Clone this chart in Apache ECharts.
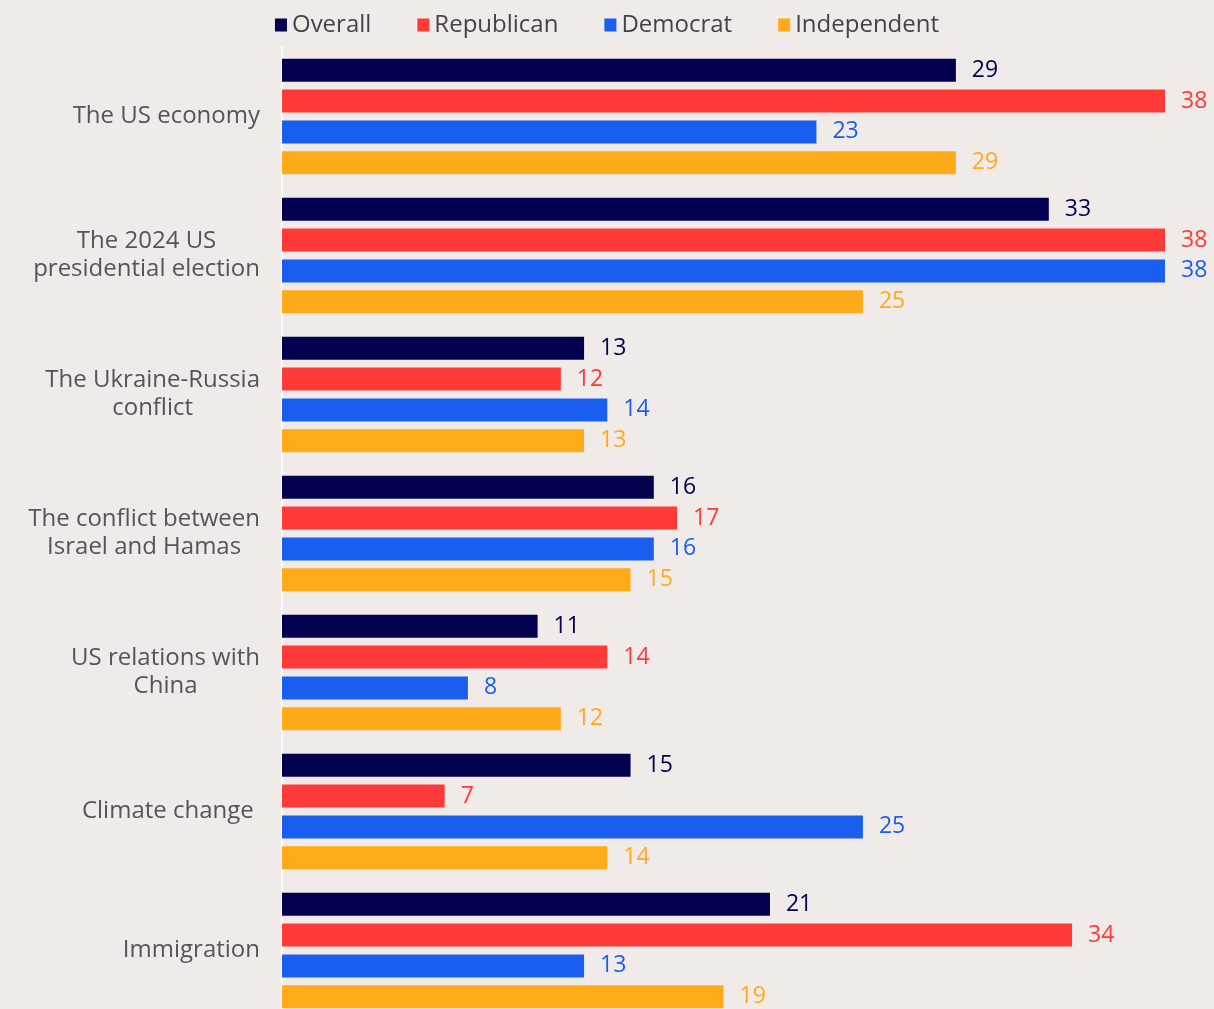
<!DOCTYPE html>
<html>
<head>
<meta charset="utf-8">
<style>
  html, body { margin: 0; padding: 0; background: #f0ebe8; }
  #chart { width: 1214px; height: 1009px; }
</style>
<script src="https://cdn.jsdelivr.net/npm/echarts@6/dist/echarts.min.js"></script>
</head>
<body>
<div id="chart"></div>
<script>
const categories = [
  'The US economy',
  'The 2024 US\npresidential election',
  'The Ukraine-Russia\nconflict',
  'The conflict between\nIsrael and Hamas',
  'US relations with\nChina',
  'Climate change ',
  'Immigration'
];
const seriesNames = ['Overall', 'Republican', 'Democrat', 'Independent'];
const overall     = [29, 33, 13, 16, 11, 15, 21];
const republican  = [38, 38, 12, 17, 14, 7, 34];
const democrat    = [23, 38, 14, 16, 8, 25, 13];
const independent = [29, 25, 13, 15, 12, 14, 19];
const colors = ['#02004f', '#ff3a38', '#1a5ef0', '#ffab19'];

const FONT = 'Open Sans';
const values = [overall, republican, democrat, independent];

const chart = echarts.init(document.getElementById('chart'));
chart.setOption({
  backgroundColor: '#f0ebe8',
  animation: false,
  legend: {
    top: 8,
    left: 'center',
    icon: 'rect',
    itemWidth: 12,
    itemHeight: 13,
    itemGap: 46,
    textStyle: { fontFamily: FONT, fontSize: 24, color: '#444' },
    data: seriesNames
  },
  // the last band runs a little past the bottom edge
  grid: { left: 282, right: 49, top: 47, height: 973, containLabel: false, outerBoundsMode: 'none' },
  xAxis: {
    type: 'value', min: 0, max: 38, show: false
  },
  yAxis: {
    type: 'category',
    inverse: true,
    data: categories,
    axisLine: { show: true, lineStyle: { color: '#ffffff', width: 2 } },
    axisTick: { show: false },
    axisLabel: {
      margin: 22,
      // each line centred within the right-aligned label block
      formatter: v => v.split('\n').map(s => '{c|' + s + '}').join('\n'),
      rich: {
        c: { align: 'center', fontFamily: FONT, fontSize: 24, color: '#555', lineHeight: 28 }
      }
    }
  },
  series: seriesNames.map((name, i) => ({
    name,
    type: 'bar',
    data: values[i],
    barWidth: 23,
    barGap: '34%',
    itemStyle: { color: colors[i] },
    label: {
      show: true,
      position: 'right',
      distance: 16,
      color: colors[i],
      fontFamily: FONT,
      fontSize: 23
    }
  }))
});
</script>
</body>
</html>
